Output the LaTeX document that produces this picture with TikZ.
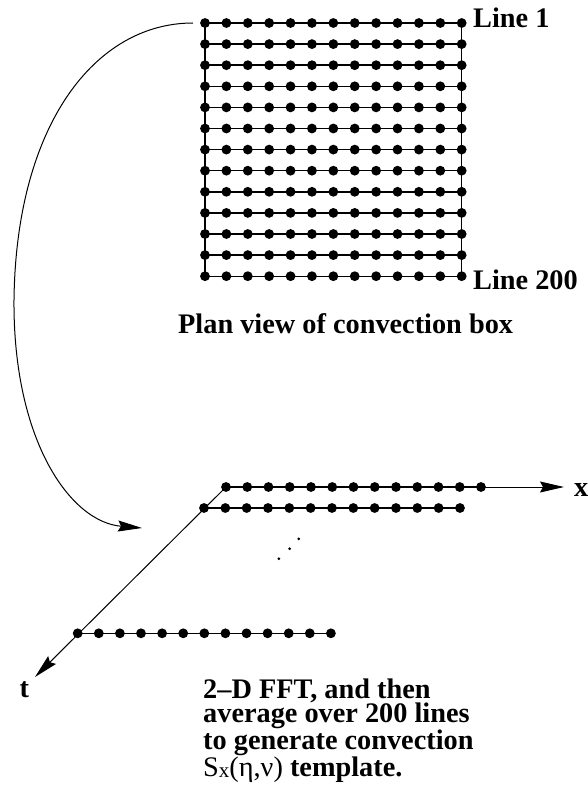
\documentclass[tikz,border=0pt]{standalone}
\usepackage{fontspec}
\setmainfont{Liberation Serif}
\usetikzlibrary{arrows.meta}
\begin{document}
\begin{tikzpicture}[x=1pt,y=-1pt,
  dot/.style={circle,fill=black,inner sep=0pt,minimum size=9.8pt},
  sdot/.style={circle,fill=black,inner sep=0pt,minimum size=3pt},
  ln/.style={line width=1.4pt},
  tip/.style={-{Stealth[length=24pt,width=11pt,inset=3pt]}},
  ax/.style={line width=1pt,tip},
  lab/.style={font=\fontsize{28.3}{24.5}\bfseries\selectfont,inner sep=0pt,anchor=base west}]
\useasboundingbox (0,0) rectangle (587,789);
% plan-view grid
\foreach \j in {0,...,12}
  \foreach \i in {0,...,12}
    \node[dot] (g-\i-\j) at ({205+21.39*\i},{23+21.1*\j}) {};
\foreach \j in {0,...,12}
  \draw[ln] (g-0-\j.center) -- (g-12-\j.center);
\draw[ln] (g-0-0.center) -- (g-0-12.center);
\draw[ln] (g-12-0.center) -- (g-12-12.center);
\node[lab] (line1) at (473,28) {Line 1};
\node[lab] (line200) at (473,289) {Line 200};
\node[lab] (plan) at (178,333) {Plan view of convection box};
% curved arrow
\coordinate (cs) at (193,23);
\coordinate (ce) at (142,528);
\draw[line width=1pt,tip] (cs) .. controls (95,23) and (16,125) .. (14,300)
  .. controls (13,440) and (70,522) .. (ce);
% lower diagram
\foreach \i in {0,...,12}
  \node[dot] (a-\i) at ({226+21.25*\i},487) {};
\foreach \i in {0,...,12}
  \node[dot] (b-\i) at ({204+21.33*\i},508) {};
\foreach \i in {0,...,12}
  \node[dot] (c-\i) at ({77.7+21.1*\i},633.3) {};
\coordinate (xend) at (564,487);
\coordinate (tend) at (35,677);
\draw[ax] (a-0.center) -- (xend);
\draw[ax] (a-0.center) -- (tend);
\draw[ln] (a-0.center) -- (a-12.center);
\draw[ln] (b-0.center) -- (b-12.center);
\draw[ln] (c-0.center) -- (c-12.center);
\node[sdot] (e1) at (298.7,538.8) {};
\node[sdot] (e2) at (289.6,548.7) {};
\node[sdot] (e3) at (278.8,558.7) {};
\node[lab] (xl) at (574,496) {x};
\node[lab] (tl) at (19.5,697) {t};
\node[lab,anchor=north west,align=left] (caption) at (203,678.2)
  {2–D FFT, and then\\average over 200 lines\\to generate convection\\
   {\mdseries S\raisebox{-1pt}{\fontsize{21}{21}\selectfont x}(η,ν)} template.};
\end{tikzpicture}
\end{document}
